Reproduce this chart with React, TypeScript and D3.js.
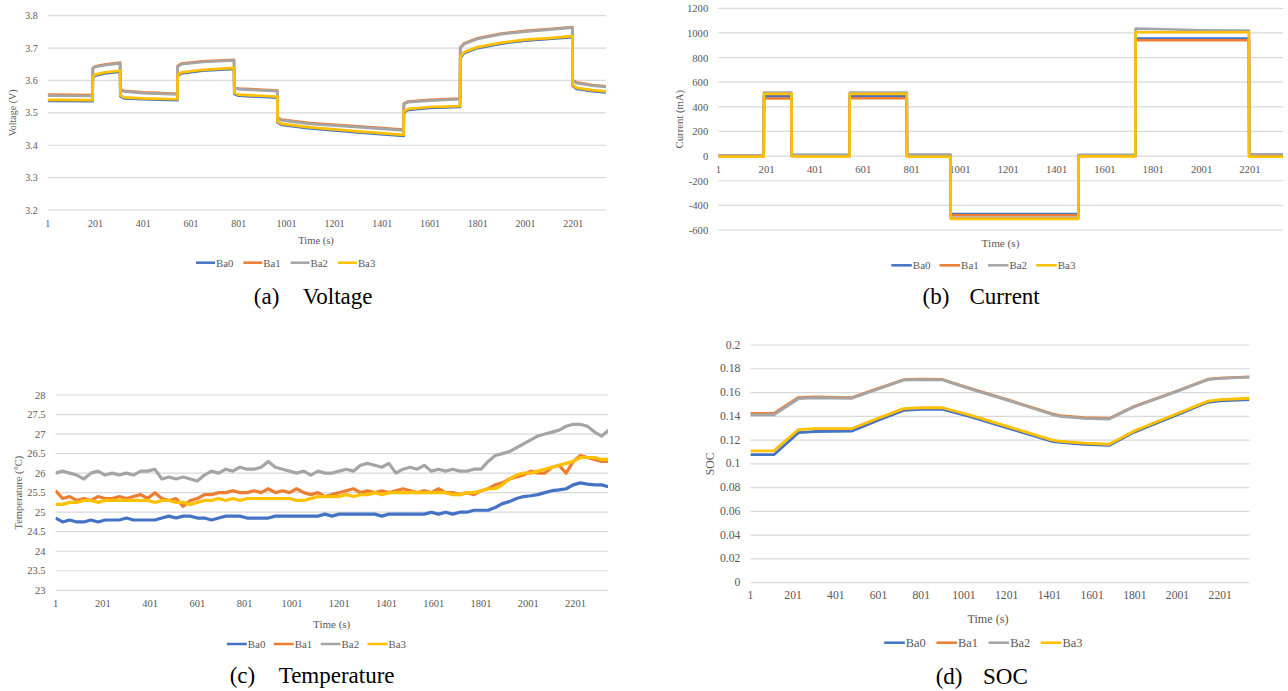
import React from "react";
import * as d3 from "d3";

type Pt = [number, number];

const seriesNames = ["Ba0", "Ba1", "Ba2", "Ba3"];
const seriesColors = ["#4472C4", "#ED7D31", "#A5A5A5", "#FFC000"];
const xTickLabels = [1, 201, 401, 601, 801, 1001, 1201, 1401, 1601, 1801, 2001, 2201];
const lastIndex = 2338;

// ---- (a) Voltage, [sample index, V]
const voltageBa0: Pt[] = [[1,3.537],[189,3.536],[190,3.609],[200,3.615],[240,3.622],[304,3.627],[305,3.551],[320,3.545],[400,3.542],[544,3.539],[545,3.614],[560,3.622],[650,3.630],[781,3.636],[782,3.558],[800,3.553],[962,3.547],[963,3.471],[980,3.463],[1100,3.452],[1300,3.440],[1491,3.429],[1492,3.502],[1510,3.509],[1600,3.515],[1727,3.518],[1728,3.669],[1745,3.685],[1800,3.700],[1900,3.714],[2000,3.723],[2100,3.728],[2197,3.734],[2198,3.584],[2215,3.574],[2280,3.567],[2338,3.563]];
const voltageBa1: Pt[] = [[1,3.556],[189,3.555],[190,3.638],[200,3.644],[240,3.649],[304,3.655],[305,3.574],[320,3.568],[400,3.563],[544,3.559],[545,3.645],[560,3.652],[650,3.659],[781,3.664],[782,3.580],[800,3.575],[962,3.569],[963,3.486],[980,3.479],[1100,3.468],[1300,3.458],[1491,3.448],[1492,3.529],[1510,3.535],[1600,3.540],[1727,3.544],[1728,3.702],[1745,3.715],[1800,3.730],[1900,3.745],[2000,3.753],[2100,3.759],[2197,3.765],[2198,3.602],[2215,3.594],[2280,3.586],[2338,3.582]];
const voltageBa2: Pt[] = [[1,3.553],[189,3.552],[190,3.636],[200,3.642],[240,3.647],[304,3.653],[305,3.572],[320,3.566],[400,3.561],[544,3.557],[545,3.643],[560,3.650],[650,3.657],[781,3.662],[782,3.578],[800,3.573],[962,3.567],[963,3.484],[980,3.477],[1100,3.466],[1300,3.456],[1491,3.446],[1492,3.527],[1510,3.533],[1600,3.538],[1727,3.542],[1728,3.700],[1745,3.713],[1800,3.728],[1900,3.743],[2000,3.751],[2100,3.757],[2197,3.763],[2198,3.600],[2215,3.592],[2280,3.584],[2338,3.580]];
const voltageBa3: Pt[] = [[1,3.540],[189,3.539],[190,3.612],[200,3.618],[240,3.625],[304,3.630],[305,3.554],[320,3.548],[400,3.545],[544,3.542],[545,3.617],[560,3.625],[650,3.633],[781,3.639],[782,3.561],[800,3.556],[962,3.550],[963,3.474],[980,3.466],[1100,3.455],[1300,3.443],[1491,3.432],[1492,3.505],[1510,3.512],[1600,3.518],[1727,3.521],[1728,3.672],[1745,3.688],[1800,3.703],[1900,3.717],[2000,3.726],[2100,3.731],[2197,3.737],[2198,3.587],[2215,3.577],[2280,3.570],[2338,3.566]];
const voltageTicks = [3.2, 3.3, 3.4, 3.5, 3.6, 3.7, 3.8];

// ---- (b) Current, [sample index, mA]
const currentBa0: Pt[] = [[1,3],[189,3],[190,485],[304,485],[305,8],[544,8],[545,485],[781,485],[782,8],[962,8],[963,-470],[1491,-470],[1492,5],[1727,5],[1728,955],[2197,955],[2198,12],[2338,12]];
const currentBa1: Pt[] = [[1,0],[189,0],[190,468],[304,468],[305,2],[544,2],[545,470],[781,470],[782,2],[962,2],[963,-480],[1491,-480],[1492,2],[1727,2],[1728,940],[2197,940],[2198,5],[2338,5]];
const currentBa2: Pt[] = [[1,5],[189,5],[190,515],[304,515],[305,10],[544,10],[545,515],[781,515],[782,12],[962,12],[963,-500],[1491,-500],[1492,10],[1727,10],[1728,1035],[1850,1030],[2000,1022],[2197,1020],[2198,15],[2338,15]];
const currentBa3: Pt[] = [[1,-3],[189,-3],[190,505],[304,505],[305,-3],[544,-3],[545,505],[781,505],[782,-5],[962,-5],[963,-510],[1491,-510],[1492,-2],[1727,-2],[1728,1005],[2197,1005],[2198,-5],[2338,-5]];
const currentTicks = [-600, -400, -200, 0, 200, 400, 600, 800, 1000, 1200];

// ---- (c) Temperature, one reading every 30 samples starting at sample 1
const temperatureStep = 30;
const temperatureBa0 = [24.85,24.75,24.8,24.75,24.75,24.8,24.75,24.8,24.8,24.8,24.85,24.8,24.8,24.8,24.8,24.85,24.9,24.85,24.9,24.9,24.85,24.85,24.8,24.85,24.9,24.9,24.9,24.85,24.85,24.85,24.85,24.9,24.9,24.9,24.9,24.9,24.9,24.9,24.95,24.9,24.95,24.95,24.95,24.95,24.95,24.95,24.9,24.95,24.95,24.95,24.95,24.95,24.95,25.0,24.95,25.0,24.95,25.0,25.0,25.05,25.05,25.05,25.12,25.22,25.27,25.35,25.4,25.42,25.45,25.5,25.55,25.57,25.6,25.7,25.75,25.72,25.7,25.7,25.65];
const temperatureBa1 = [25.55,25.35,25.4,25.3,25.35,25.3,25.4,25.35,25.35,25.4,25.35,25.4,25.45,25.35,25.5,25.35,25.3,25.35,25.15,25.3,25.35,25.45,25.45,25.5,25.5,25.55,25.5,25.5,25.55,25.5,25.6,25.5,25.55,25.5,25.6,25.5,25.45,25.5,25.4,25.45,25.5,25.55,25.6,25.5,25.55,25.5,25.55,25.5,25.55,25.6,25.55,25.5,25.55,25.5,25.6,25.5,25.5,25.45,25.5,25.45,25.55,25.6,25.7,25.75,25.85,25.9,25.95,26.05,26.0,26.0,26.15,26.2,26.0,26.3,26.45,26.4,26.35,26.3,26.3];
const temperatureBa2 = [26.0,26.05,26.0,25.95,25.85,26.0,26.05,25.95,26.0,25.95,26.0,25.95,26.05,26.05,26.1,25.85,25.9,25.85,25.9,25.85,25.8,25.95,26.05,26.0,26.1,26.05,26.15,26.1,26.1,26.15,26.3,26.15,26.1,26.05,26.0,26.05,25.95,26.05,26.0,26.0,26.05,26.1,26.05,26.2,26.25,26.2,26.15,26.25,26.0,26.1,26.15,26.1,26.2,26.05,26.1,26.05,26.1,26.05,26.05,26.1,26.1,26.3,26.45,26.5,26.55,26.65,26.75,26.85,26.95,27.0,27.05,27.1,27.2,27.25,27.25,27.2,27.05,26.95,27.1];
const temperatureBa3 = [25.2,25.2,25.25,25.25,25.3,25.3,25.25,25.3,25.3,25.3,25.3,25.3,25.3,25.3,25.25,25.3,25.3,25.25,25.25,25.2,25.25,25.3,25.3,25.35,25.3,25.35,25.3,25.35,25.35,25.35,25.35,25.35,25.35,25.35,25.3,25.3,25.35,25.4,25.4,25.4,25.4,25.45,25.4,25.45,25.45,25.5,25.45,25.5,25.5,25.5,25.5,25.5,25.5,25.5,25.5,25.5,25.45,25.45,25.5,25.5,25.55,25.6,25.6,25.7,25.85,25.95,26.0,26.0,26.05,26.1,26.15,26.2,26.25,26.3,26.4,26.4,26.4,26.35,26.35];
const temperatureTicks = [23, 23.5, 24, 24.5, 25, 25.5, 26, 26.5, 27, 27.5, 28];

// ---- (d) SOC, [sample index, SOC]
const socBa0: Pt[] = [[1,0.1077],[111,0.1077],[226,0.1262],[300,0.1272],[477,0.1276],[600,0.1368],[718,0.1450],[800,0.1458],[901,0.1458],[1026,0.1400],[1219,0.1295],[1411,0.1190],[1450,0.1180],[1565,0.1165],[1681,0.1155],[1796,0.1265],[1989,0.1405],[2143,0.1518],[2200,0.1530],[2338,0.1540]];
const socBa1: Pt[] = [[1,0.1425],[111,0.1425],[226,0.1558],[300,0.1563],[477,0.1558],[600,0.1635],[718,0.1708],[800,0.1712],[901,0.1710],[1026,0.1637],[1219,0.1532],[1411,0.1422],[1450,0.1405],[1565,0.1388],[1681,0.1382],[1796,0.1482],[1989,0.1607],[2143,0.1712],[2200,0.1722],[2338,0.1732]];
const socBa2: Pt[] = [[1,0.1413],[111,0.1413],[226,0.1548],[300,0.1556],[477,0.1552],[600,0.1630],[718,0.1704],[800,0.1709],[901,0.1707],[1026,0.1633],[1219,0.1528],[1411,0.1417],[1450,0.1400],[1565,0.1383],[1681,0.1377],[1796,0.1478],[1989,0.1603],[2143,0.1709],[2200,0.1719],[2338,0.1729]];
const socBa3: Pt[] = [[1,0.1110],[111,0.1110],[226,0.1288],[300,0.1297],[477,0.1297],[600,0.1385],[718,0.1465],[800,0.1472],[901,0.1472],[1026,0.1412],[1219,0.1307],[1411,0.1202],[1450,0.1190],[1565,0.1175],[1681,0.1165],[1796,0.1275],[1989,0.1415],[2143,0.1528],[2200,0.1540],[2338,0.1552]];
const socTicks = [0, 0.02, 0.04, 0.06, 0.08, 0.1, 0.12, 0.14, 0.16, 0.18, 0.2];

const toSeries = (vals: number[]): Pt[] => vals.map((v, i) => [1 + i * temperatureStep, v]);

const FONT = "'Liberation Serif', 'Times New Roman', serif";
const TEXT_COLOR = "#595959";
const GRID = "#d9d9d9";

interface PanelCfg {
  id: string;
  left: number; right: number; top: number; bottom: number;
  ticks: number[]; cross: number;
  series: Pt[][];
  yTitle: string; yTitleX: number;
  timeX: number; timeY: number;
  legendX: number; legendY: number; legendGap: number; legendLine: number;
  capY: number; capLetter: string; capLetterX: number; capWord: string; capWordX: number;
  fs: number; legendFs: number; lineW: number;
}

function Panel({ c }: { c: PanelCfg }) {
  const x = d3.scaleLinear().domain([1, lastIndex]).range([c.left, c.right]);
  const y = d3.scaleLinear().domain([c.ticks[0], c.ticks[c.ticks.length - 1]]).range([c.bottom, c.top]);
  const line = d3.line<Pt>().x((d) => x(d[0])).y((d) => y(d[1]));
  const fmt = (v: number) => String(Math.round(v * 100) / 100);
  const labelY = y(c.cross) + 13;
  return (
    <g>
      <defs>
        <clipPath id={"clip-" + c.id}>
          <rect x={c.left} y={c.top - 20} width={c.right - c.left} height={c.bottom - c.top + 40} />
        </clipPath>
      </defs>
      {c.ticks.map((t) => (
        <g key={t}>
          <line x1={c.left} x2={c.right} y1={y(t)} y2={y(t)} stroke={GRID} strokeWidth={1.2} />
          <text x={c.left - 10} y={y(t)} textAnchor="end" dominantBaseline="central" fontSize={c.fs} fill={TEXT_COLOR} fontFamily={FONT}>{fmt(t)}</text>
        </g>
      ))}
      {xTickLabels.map((t) => (
        <text key={t} x={x(t)} y={labelY} textAnchor="middle" dominantBaseline="central" fontSize={c.fs} fill={TEXT_COLOR} fontFamily={FONT}>{t}</text>
      ))}
      <g clipPath={`url(#clip-${c.id})`}>
        {c.series.map((s, i) => (
          <path key={i} d={line(s) || ""} fill="none" stroke={seriesColors[i]} strokeWidth={c.lineW} strokeLinejoin="round" />
        ))}
      </g>
      <text transform={`translate(${c.yTitleX},${(c.top + c.bottom) / 2}) rotate(-90)`} textAnchor="middle" dominantBaseline="central" fontSize={c.fs} fill={TEXT_COLOR} fontFamily={FONT}>{c.yTitle}</text>
      <text x={c.timeX} y={c.timeY} textAnchor="middle" dominantBaseline="central" fontSize={c.fs + 0.5} fill={TEXT_COLOR} fontFamily={FONT}>Time (s)</text>
      {seriesNames.map((n, i) => {
        const lx = c.legendX + i * c.legendGap;
        return (
          <g key={n}>
            <line x1={lx} x2={lx + c.legendLine} y1={c.legendY} y2={c.legendY} stroke={seriesColors[i]} strokeWidth={2.5} />
            <text x={lx + c.legendLine + 1} y={c.legendY} dominantBaseline="central" fontSize={c.legendFs} fill={TEXT_COLOR} fontFamily={FONT}>{n}</text>
          </g>
        );
      })}
      <text x={c.capLetterX} y={c.capY} dominantBaseline="central" fontSize={23} fill="#000" fontFamily={FONT}>{c.capLetter}</text>
      <text x={c.capWordX} y={c.capY} dominantBaseline="central" fontSize={23} fill="#000" fontFamily={FONT}>{c.capWord}</text>
    </g>
  );
}

const panels: PanelCfg[] = [
  {
    id: "a", left: 47.7, right: 606, top: 15.7, bottom: 210, ticks: voltageTicks, cross: 3.2,
    series: [voltageBa0, voltageBa1, voltageBa2, voltageBa3],
    yTitle: "Voltage (V)", yTitleX: 12.5, timeX: 316, timeY: 240.7,
    legendX: 196, legendY: 262.7, legendGap: 47.3, legendLine: 19,
    capY: 296.7, capLetter: "(a)", capLetterX: 253.8, capWord: "Voltage", capWordX: 302.7,
    fs: 10, legendFs: 10.8, lineW: 2.7,
  },
  {
    id: "b", left: 718.3, right: 1283, top: 8.3, bottom: 230, ticks: currentTicks, cross: 0,
    series: [currentBa0, currentBa1, currentBa2, currentBa3],
    yTitle: "Current (mA)", yTitleX: 678.5, timeX: 1000.5, timeY: 243.3,
    legendX: 891.3, legendY: 265.3, legendGap: 48.3, legendLine: 20.5,
    capY: 296.7, capLetter: "(b)", capLetterX: 922.6, capWord: "Current", capWordX: 969.5,
    fs: 10.7, legendFs: 11, lineW: 2.6,
  },
  {
    id: "c", left: 55.5, right: 608, top: 395, bottom: 590.3, ticks: temperatureTicks, cross: 23,
    series: [toSeries(temperatureBa0), toSeries(temperatureBa1), toSeries(temperatureBa2), toSeries(temperatureBa3)],
    yTitle: "Temperature (°C)", yTitleX: 18.4, timeX: 331.7, timeY: 624.3,
    legendX: 226.8, legendY: 644, legendGap: 46.9, legendLine: 20,
    capY: 675, capLetter: "(c)", capLetterX: 229.7, capWord: "Temperature", capWordX: 278.7,
    fs: 10.5, legendFs: 10.9, lineW: 3.2,
  },
  {
    id: "d", left: 750.4, right: 1249.5, top: 345, bottom: 582.7, ticks: socTicks, cross: 0,
    series: [socBa0, socBa1, socBa2, socBa3],
    yTitle: "SOC", yTitleX: 710.8, timeX: 988, timeY: 619,
    legendX: 884.2, legendY: 642.7, legendGap: 52.2, legendLine: 20.6,
    capY: 676, capLetter: "(d)", capLetterX: 935.7, capWord: "SOC", capWordX: 983,
    fs: 11.7, legendFs: 12.4, lineW: 2.8,
  },
];

export default function App() {
  return (
    <svg width={1288} height={691} style={{ position: "absolute", left: 0, top: 0, background: "#fff" }}>
      <rect x={0} y={0} width={1288} height={691} fill="#fff" />
      {panels.map((p) => (
        <Panel key={p.id} c={p} />
      ))}
    </svg>
  );
}
